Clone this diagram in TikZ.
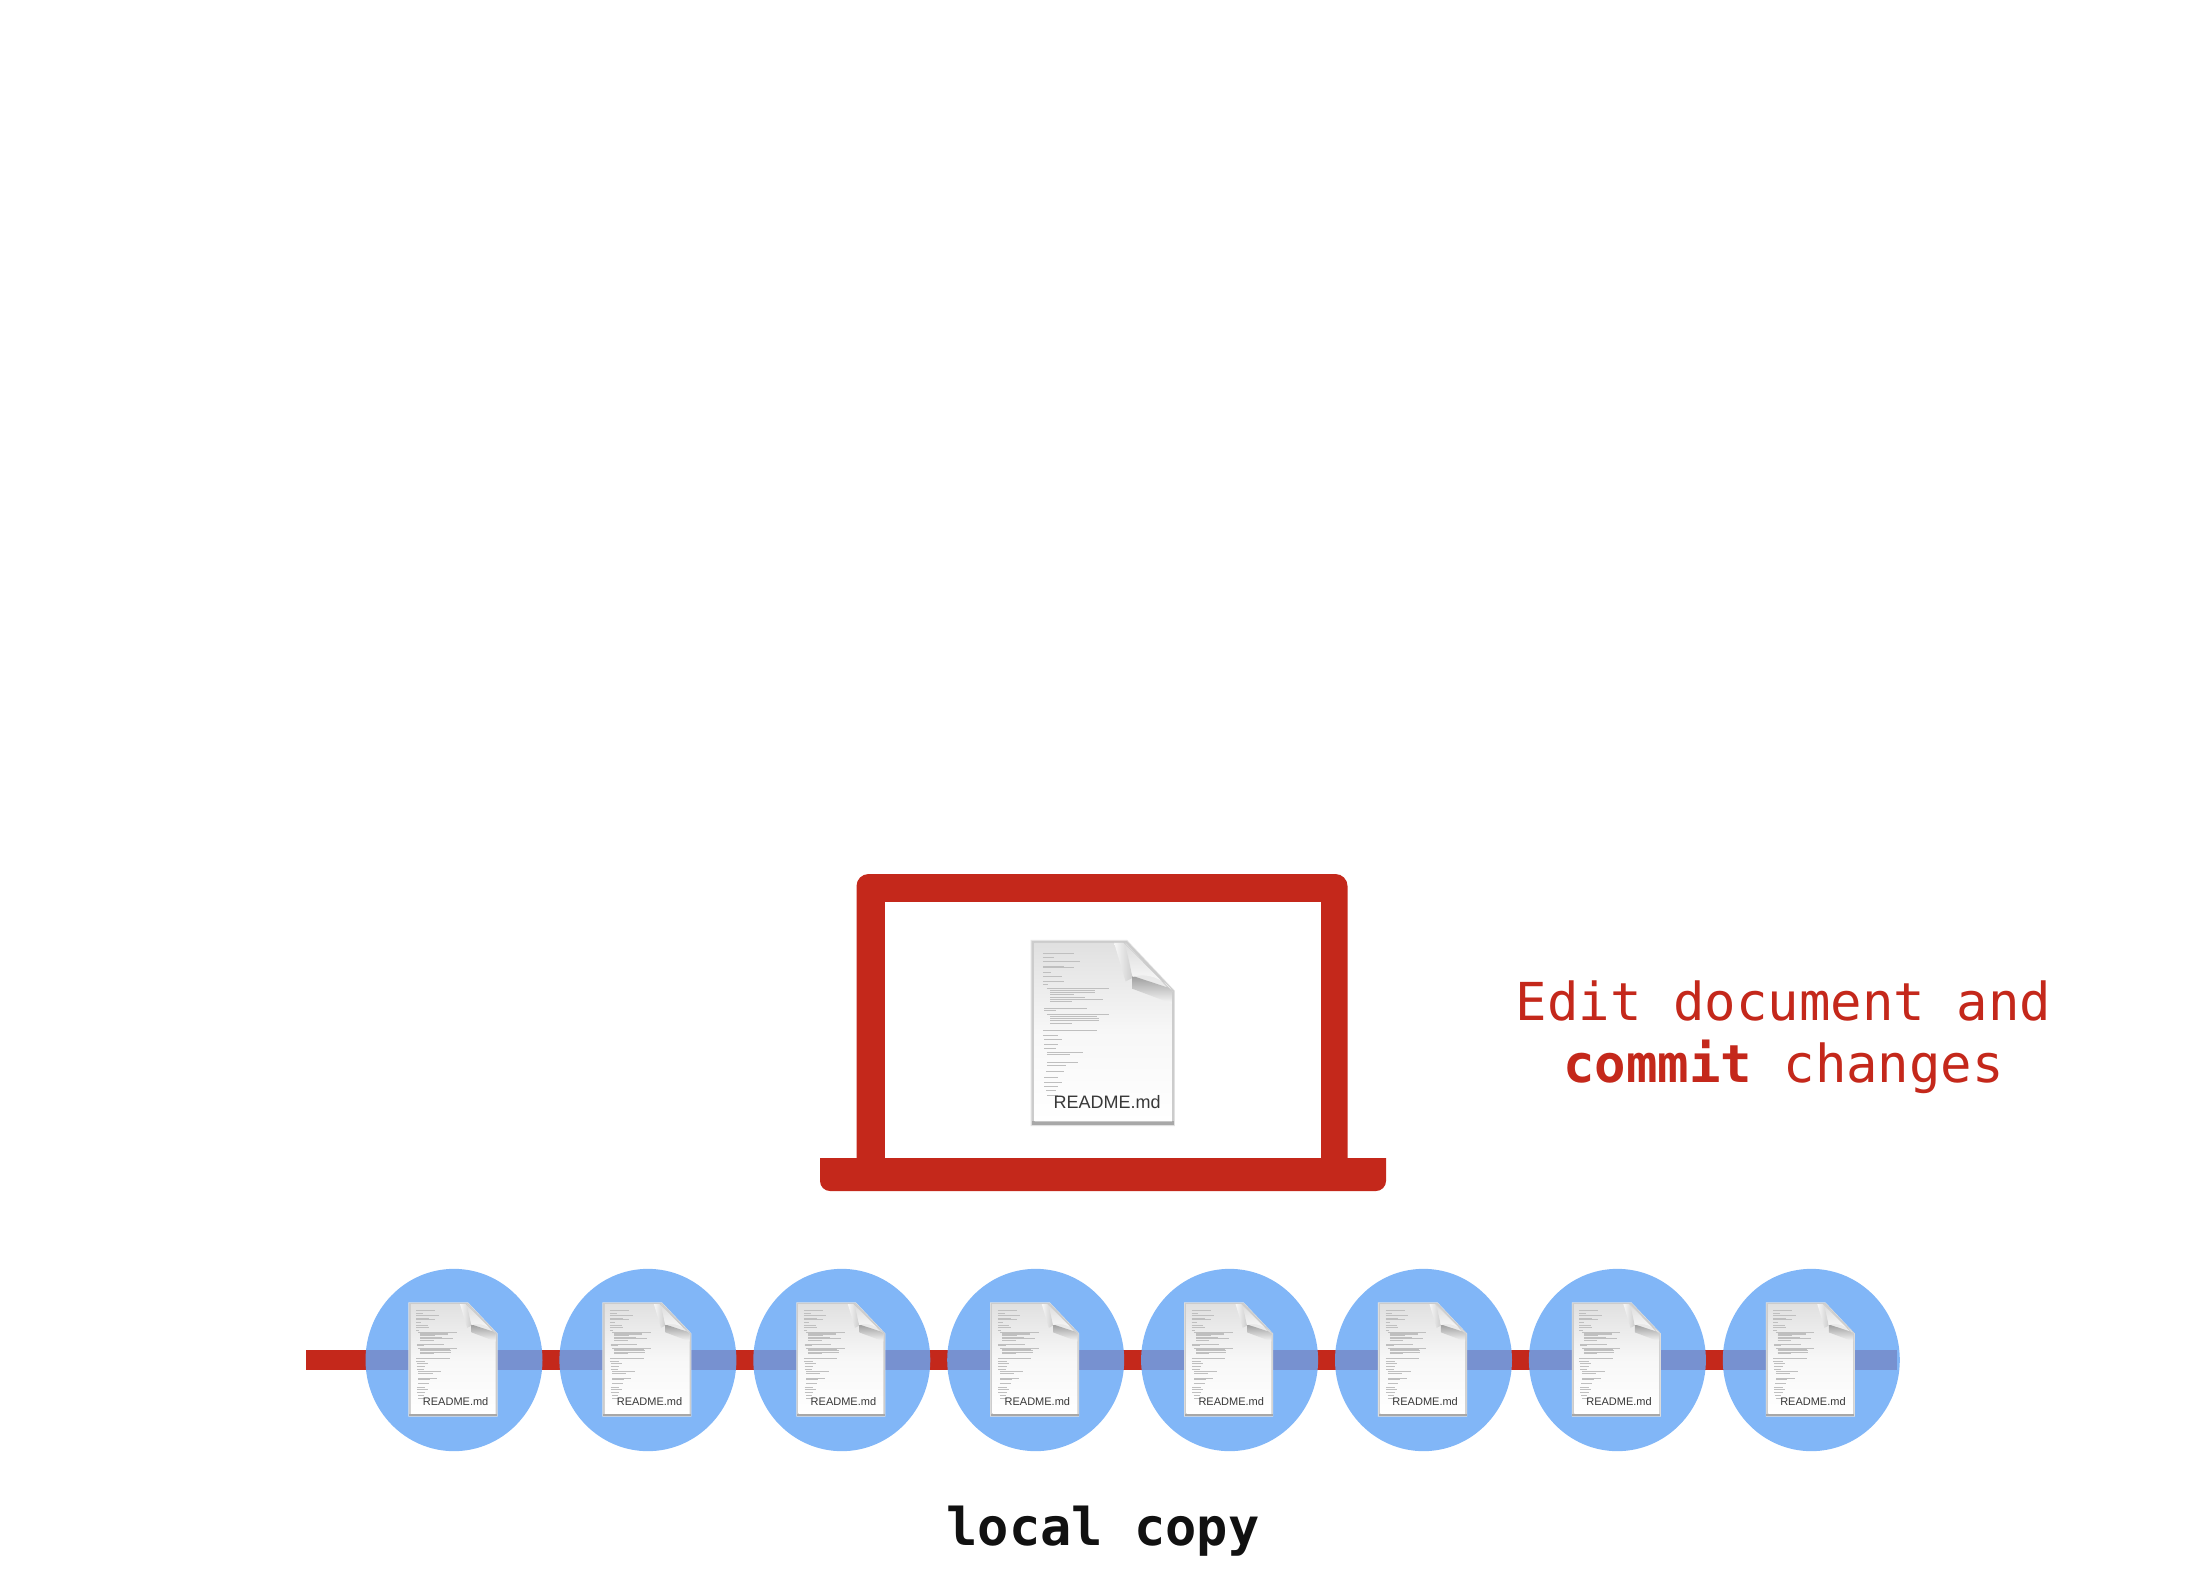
\documentclass[tikz,border=0pt]{standalone}
\usepackage{fontspec}
\setmainfont{Liberation Sans}
\newfontfamily\monof{DejaVu Sans Mono}
\usetikzlibrary{backgrounds}
\definecolor{lapred}{RGB}{196,40,27}
\definecolor{dotblue}{RGB}{104,167,245}
\definecolor{inktext}{RGB}{17,17,17}
\tikzset{
  lapfill/.style={fill=lapred,draw=none},
  commitdot/.style={circle,fill=dotblue,fill opacity=.83,draw=none,inner sep=0pt,minimum width=177pt,yscale=1.03},
  doclabel/.style={inner sep=0pt,text=black!78},
  codeline/.style={draw=black!25,line cap=butt},
  headline/.style={font=\monof\fontsize{52.3}{62}\selectfont,align=center,inner sep=0pt}
}
% \DocIcon{name}{left}{top}{width}{height}{label size}{code line width}
\newcommand{\DocIcon}[7]{%
\begin{scope}[shift={(#2,#3)},x=#4pt,y=-#5pt]
  \fill[black!10] (-.006,-.006) -- (.67,-.006) -- (1.006,.27) -- (1.006,1.006) -- (-.006,1.006) -- cycle;
  \fill[black!20] (0,0) -- (.67,0) -- (1,.27) -- (1,1) -- (0,1) -- cycle;
  \fill[black!34] (0,.98) rectangle (1,1);
  \shade[top color=black!12,bottom color=white,middle color=black!3]
    (.022,.01) -- (.66,.01) -- (.985,.28) -- (.985,.98) -- (.022,.98) -- cycle;
  \shade[left color=black!3,right color=black!20] (.58,.01) -- (.655,.01) -- (.71,.2) -- (.66,.22) -- cycle;
  \shade[top color=black!38,bottom color=black!3] (.71,.19) -- (.985,.26) -- (.985,.34) -- (.71,.26) -- cycle;
  \shade[top color=black!14,bottom color=white] (.645,.005) .. controls (.69,.07) and (.69,.14) .. (.71,.195) .. controls (.8,.17) and (.93,.2) .. (.99,.275) -- cycle;
  \draw[black!22,line width=.4pt] (.645,.005) -- (.99,.275);
  \foreach \a/\b/\c in {308/612/690,320/612/640,333/612/705,347/612/665,352/612/690,365/612/632,379/612/660,392/612/665,403/612/625,414/622/780,420/630/745,425/630/745,431/630/690,441/630/720,446/630/765,454/630/685,473/615/725,479/615/645,492/622/780,498/630/750,504/630/755,510/630/755,519/630/685,541/612/750,555/612/650,568/615/660,581/615/650,593/615/645,606/622/715,613/622/680,637/622/700,645/622/670,664/620/665,682/615/650,695/615/660,708/615/650,721/620/645,735/622/650}
    \draw[codeline,line width=#7pt] ({(\b-583)/362},{(\a-272)/553}) -- ({(\c-583)/362},{(\a-272)/553});
  \node[doclabel,font=\fontsize{#6}{#6}\selectfont] (#1) at (.53,.874) {README.md};
\end{scope}}
\begin{document}
\begin{tikzpicture}[x=1pt,y=-1pt]
\useasboundingbox (0,0) rectangle (2212,1572);

% laptop
\path[lapfill,rounded corners=12pt] (856.5,1175) rectangle (1347.5,874);
\fill[white] (885,902) rectangle (1320.5,1159);
\path[lapfill] (820,1158) -- (1386,1158) [rounded corners=10pt] -- (1386,1191) -- (820,1191) [sharp corners] -- cycle;
\DocIcon{bigdoc}{1031.5}{941}{142.5}{184}{18}{.42}

% edit label
\node[headline,text=lapred] (editlabel) at (1783.5,1037)
  {Edit document and\\{\bfseries commit} changes};

% commit chain
\coordinate (barstart) at (306,1360);
\foreach \i [evaluate=\i as \cx using {454+193.9*(\i-1)}] in {1,...,8} {
  \node[commitdot] (c\i) at (\cx,1360) {};
  \DocIcon{doc\i}{\cx-45}{1303}{88}{113}{11}{.2}
}
\begin{scope}[on background layer]
  \draw[lapred,line width=20pt] (barstart) -- ([xshift=-3pt]c8.east);
\end{scope}

% caption
\node[headline,text=inktext,font=\monof\bfseries\fontsize{52}{62}\selectfont] (caption) at (1103,1531) {local copy};
\end{tikzpicture}
\end{document}
